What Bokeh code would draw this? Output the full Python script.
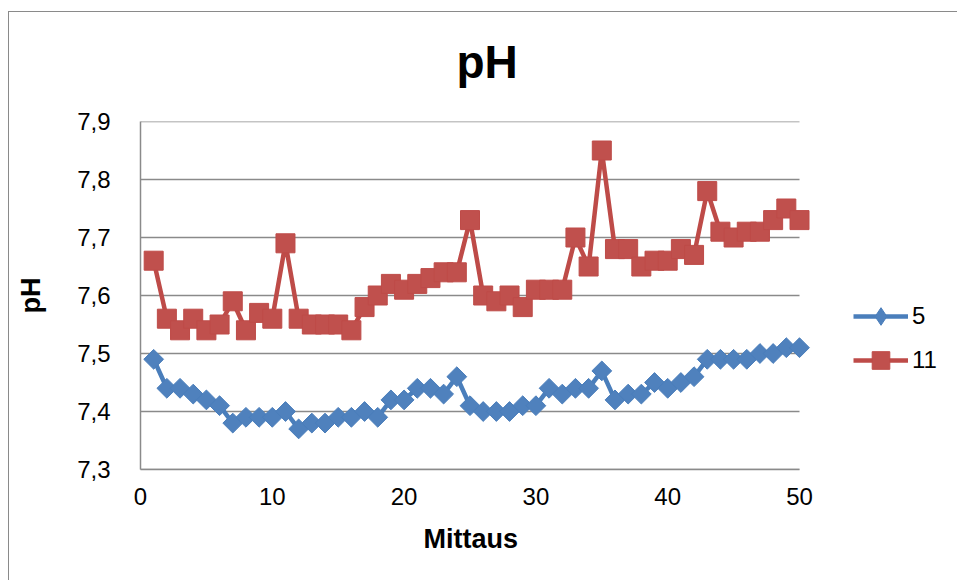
from bokeh.plotting import figure
from bokeh.models import (Range1d, FixedTicker, CustomJSTickFormatter, Legend, LegendItem,
                          InlineStyleSheet, Title)
from bokeh.embed import file_html
from bokeh.resources import INLINE
import numpy as np

mittaus = list(range(1, 51))
ph_5 = [7.49, 7.44, 7.44, 7.43, 7.42, 7.41, 7.38, 7.39, 7.39, 7.39,
        7.40, 7.37, 7.38, 7.38, 7.39, 7.39, 7.40, 7.39, 7.42, 7.42,
        7.44, 7.44, 7.43, 7.46, 7.41, 7.40, 7.40, 7.40, 7.41, 7.41,
        7.44, 7.43, 7.44, 7.44, 7.47, 7.42, 7.43, 7.43, 7.45, 7.44,
        7.45, 7.46, 7.49, 7.49, 7.49, 7.49, 7.50, 7.50, 7.51, 7.51]
ph_11 = [7.66, 7.56, 7.54, 7.56, 7.54, 7.55, 7.59, 7.54, 7.57, 7.56,
         7.69, 7.56, 7.55, 7.55, 7.55, 7.54, 7.58, 7.60, 7.62, 7.61,
         7.62, 7.63, 7.64, 7.64, 7.73, 7.60, 7.59, 7.60, 7.58, 7.61,
         7.61, 7.61, 7.70, 7.65, 7.85, 7.68, 7.68, 7.65, 7.66, 7.66,
         7.68, 7.67, 7.78, 7.71, 7.70, 7.71, 7.71, 7.73, 7.75, 7.73]
series_names = ["5", "11"]
x_ticks = [0, 10, 20, 30, 40, 50]
y_ticks = [7.3, 7.4, 7.5, 7.6, 7.7, 7.8, 7.9]

FONT = "Liberation Sans"
BLUE_LINE, BLUE_FILL = "#4A7EBB", "#4F81BD"
RED_LINE, RED_FILL = "#BE4B48", "#C0504D"
GRID = "#8a8a8a"

W, H = 957, 580
LEFT, PLOT_RIGHT = 140, 799
x_lo, x_hi = x_ticks[0], x_ticks[-1]
# frame extends to the right edge so the legend (inside the frame) is not clipped;
# the visible axis/grid stops at x_hi
x_end = x_hi * (W - LEFT) / (PLOT_RIGHT - LEFT)

p = figure(width=W, height=H, output_backend="svg", toolbar_location=None,
           x_range=Range1d(x_lo, x_end), y_range=Range1d(y_ticks[0], y_ticks[-1]),
           min_border_left=LEFT, min_border_right=0, min_border_top=121,
           min_border_bottom=111)
p.outline_line_color = None
p.background_fill_color = "white"
p.border_fill_color = "white"

p.title.text = "pH"
p.title.text_font = FONT
p.title.text_font_size = "46px"
p.title.text_font_style = "bold"
p.title.text_color = "black"
p.title.align = "left"
p.title.vertical_align = "top"
p.title.offset = 316
p.title.standoff = 64

# axes
p.xaxis.ticker = FixedTicker(ticks=x_ticks)
p.yaxis.ticker = FixedTicker(ticks=y_ticks)
p.xaxis.bounds = (x_lo, x_hi)
p.yaxis.formatter = CustomJSTickFormatter(code="return tick.toFixed(1).replace('.', ',');")
for ax in (p.xaxis, p.yaxis):
    ax.major_tick_line_color = None
    ax.minor_tick_line_color = None
    ax.major_label_text_font = FONT
    ax.major_label_text_font_size = "24px"
    ax.major_label_text_color = "black"
    ax.axis_label_text_font = FONT
    ax.axis_label_text_font_size = "27px"
    ax.axis_label_text_font_style = "bold"
    ax.axis_label_text_color = "black"
    ax.axis_line_color = GRID
    ax.axis_line_width = 1.5
p.yaxis.axis_label = "pH"
p.xaxis.major_label_standoff = 12
p.yaxis.major_label_standoff = 24
p.yaxis.axis_label_standoff = 28

# x axis title centred under the 0..50 part of the axis
xtitle = Title(text="Mittaus", align="left", offset=283, standoff=29,
               text_font=FONT, text_font_size="27px", text_font_style="bold",
               text_color="black")
p.add_layout(xtitle, "below")

p.xgrid.grid_line_color = None
p.ygrid.grid_line_color = None
p.segment(x0=[x_lo] * len(y_ticks), x1=[x_hi] * len(y_ticks), y0=y_ticks, y1=y_ticks,
          line_color=GRID, line_width=1.5)

l1 = p.line(mittaus, ph_5, line_color=BLUE_LINE, line_width=4.5)
m1 = p.scatter(mittaus, ph_5, marker="square", size=14, angle=np.pi / 4,
               fill_color=BLUE_FILL, line_color=BLUE_LINE)
l2 = p.line(mittaus, ph_11, line_color=RED_LINE, line_width=4.5)
m2 = p.scatter(mittaus, ph_11, marker="square", size=19,
               fill_color=RED_FILL, line_color=RED_LINE)
# hidden diamond used only for the legend swatch
m1_leg = p.scatter(mittaus, ph_5, marker="diamond", size=22,
                   fill_color=BLUE_FILL, line_color=BLUE_LINE, visible=False)

legend = Legend(items=[LegendItem(label=series_names[0], renderers=[l1, m1_leg]),
                       LegendItem(label=series_names[1], renderers=[l2, m2])],
                location=(713, 87), orientation="vertical")
legend.label_text_font = FONT
legend.label_text_font_size = "24px"
legend.label_text_color = "black"
legend.glyph_width = 55
legend.glyph_height = 44
legend.label_height = 30
legend.label_standoff = 4
legend.spacing = 0
legend.padding = 0
legend.margin = 0
legend.border_line_alpha = 0
legend.background_fill_alpha = 0
legend.inactive_fill_alpha = 0
p.add_layout(legend, "center")

p.stylesheets = [InlineStyleSheet(css=(
    ":host::after{content:'';position:absolute;left:8px;top:11px;right:0;bottom:0;"
    "border-left:1px solid #8a8a8a;border-top:1px solid #8a8a8a;pointer-events:none;}"))]

open("out.html", "w").write(file_html(p, INLINE))
